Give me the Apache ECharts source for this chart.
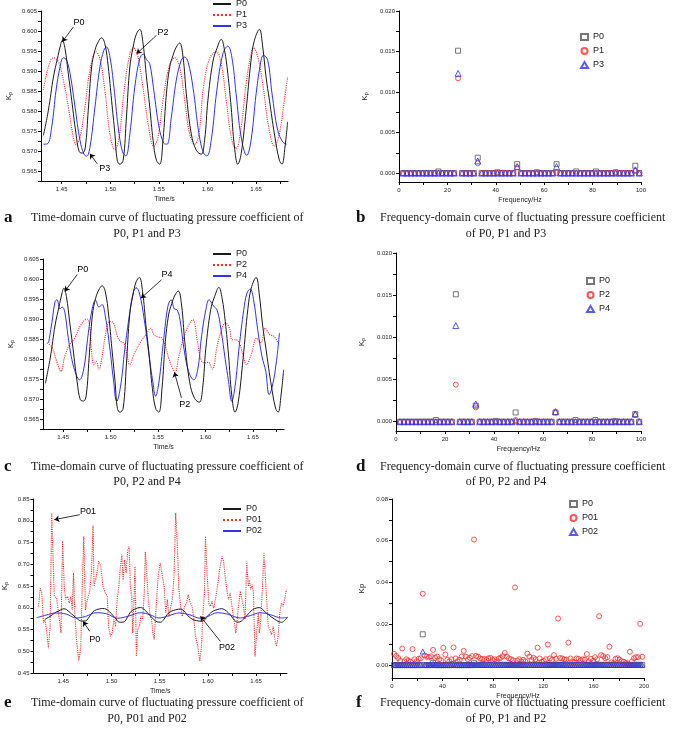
<!DOCTYPE html>
<html><head><meta charset="utf-8">
<script src="https://cdn.jsdelivr.net/npm/echarts@6/dist/echarts.min.js"></script>
<style>html,body{margin:0;padding:0;background:#fff}#c{width:685px;height:737px}</style>
</head><body><div id="c"></div><script>
// ---------- time-domain data [time (s), Kp] ----------
const P0 = [[1.4312,0.5739],[1.4363,0.5802],[1.4415,0.5885],[1.4456,0.5931],[1.4483,0.5960],[1.4507,0.5977],[1.4534,0.5956],[1.4568,0.5893],[1.4603,0.5827],[1.4647,0.5743],[1.4681,0.5698],[1.4715,0.5695],[1.4743,0.5710],[1.4773,0.5802],[1.4808,0.5910],[1.4842,0.5952],[1.4876,0.5973],[1.4910,0.5983],[1.4944,0.5968],[1.4979,0.5910],[1.5013,0.5827],[1.5047,0.5743],[1.5071,0.5677],[1.5098,0.5667],[1.5132,0.5677],[1.5166,0.5785],[1.5201,0.5910],[1.5235,0.5960],[1.5269,0.5993],[1.5303,0.6004],[1.5337,0.5968],[1.5372,0.5885],[1.5406,0.5810],[1.5440,0.5727],[1.5474,0.5677],[1.5508,0.5667],[1.5542,0.5727],[1.5577,0.5843],[1.5611,0.5910],[1.5645,0.5939],[1.5679,0.5960],[1.5713,0.5970],[1.5748,0.5935],[1.5782,0.5843],[1.5833,0.5743],[1.5884,0.5702],[1.5935,0.5692],[1.5970,0.5727],[1.6004,0.5827],[1.6055,0.5923],[1.6096,0.5956],[1.6141,0.5979],[1.6175,0.5952],[1.6209,0.5893],[1.6243,0.5810],[1.6277,0.5710],[1.6312,0.5667],[1.6346,0.5693],[1.6397,0.5802],[1.6448,0.5927],[1.6483,0.5977],[1.6534,0.6004],[1.6568,0.5960],[1.6602,0.5885],[1.6637,0.5827],[1.6688,0.5743],[1.6739,0.5677],[1.6766,0.5667],[1.6797,0.5710],[1.6824,0.5773]];
const P1 = [[1.4312,0.5852],[1.4363,0.5910],[1.4415,0.5933],[1.4466,0.5923],[1.4517,0.5877],[1.4568,0.5810],[1.4613,0.5743],[1.4647,0.5716],[1.4688,0.5735],[1.4739,0.5810],[1.4791,0.5902],[1.4852,0.5948],[1.4893,0.5931],[1.4944,0.5852],[1.4996,0.5743],[1.5047,0.5703],[1.5091,0.5735],[1.5139,0.5843],[1.5194,0.5935],[1.5235,0.5958],[1.5276,0.5943],[1.5331,0.5868],[1.5389,0.5768],[1.5447,0.5712],[1.5491,0.5735],[1.5542,0.5827],[1.5604,0.5910],[1.5662,0.5933],[1.5713,0.5910],[1.5765,0.5827],[1.5816,0.5743],[1.5867,0.5717],[1.5912,0.5743],[1.5959,0.5860],[1.6021,0.5931],[1.6089,0.5948],[1.6141,0.5919],[1.6192,0.5827],[1.6250,0.5727],[1.6294,0.5706],[1.6346,0.5760],[1.6397,0.5868],[1.6448,0.5943],[1.6472,0.5958],[1.6517,0.5935],[1.6568,0.5868],[1.6629,0.5760],[1.6688,0.5712],[1.6739,0.5743],[1.6790,0.5827],[1.6824,0.5885]];
const P3 = [[1.4312,0.5717],[1.4353,0.5718],[1.4397,0.5760],[1.4442,0.5852],[1.4483,0.5910],[1.4517,0.5933],[1.4551,0.5927],[1.4592,0.5885],[1.4637,0.5810],[1.4688,0.5727],[1.4729,0.5692],[1.4756,0.5687],[1.4791,0.5710],[1.4842,0.5810],[1.4893,0.5910],[1.4934,0.5952],[1.4961,0.5960],[1.4996,0.5935],[1.5037,0.5860],[1.5081,0.5760],[1.5125,0.5698],[1.5160,0.5688],[1.5201,0.5743],[1.5252,0.5860],[1.5303,0.5931],[1.5337,0.5942],[1.5378,0.5927],[1.5406,0.5918],[1.5447,0.5852],[1.5501,0.5760],[1.5549,0.5720],[1.5583,0.5717],[1.5628,0.5785],[1.5679,0.5877],[1.5730,0.5927],[1.5765,0.5935],[1.5799,0.5923],[1.5850,0.5860],[1.5912,0.5743],[1.5959,0.5695],[1.5994,0.5688],[1.6038,0.5727],[1.6096,0.5852],[1.6158,0.5943],[1.6209,0.5962],[1.6250,0.5935],[1.6294,0.5843],[1.6346,0.5735],[1.6404,0.5689],[1.6448,0.5727],[1.6500,0.5843],[1.6551,0.5927],[1.6575,0.5939],[1.6619,0.5927],[1.6664,0.5843],[1.6722,0.5752],[1.6773,0.5723],[1.6814,0.5717]];
const P2 = [[1.4329,0.5840],[1.4380,0.5830],[1.4432,0.5794],[1.4476,0.5769],[1.4517,0.5807],[1.4568,0.5836],[1.4620,0.5852],[1.4688,0.5886],[1.4750,0.5900],[1.4784,0.5873],[1.4797,0.5823],[1.4825,0.5786],[1.4849,0.5794],[1.4876,0.5773],[1.4910,0.5807],[1.4955,0.5873],[1.4989,0.5894],[1.5030,0.5890],[1.5071,0.5857],[1.5105,0.5844],[1.5139,0.5840],[1.5173,0.5811],[1.5201,0.5786],[1.5252,0.5815],[1.5320,0.5844],[1.5372,0.5861],[1.5423,0.5877],[1.5457,0.5861],[1.5501,0.5855],[1.5542,0.5852],[1.5577,0.5832],[1.5618,0.5798],[1.5652,0.5778],[1.5679,0.5767],[1.5720,0.5807],[1.5765,0.5848],[1.5816,0.5882],[1.5867,0.5898],[1.5912,0.5848],[1.5953,0.5798],[1.5987,0.5790],[1.6028,0.5792],[1.6072,0.5775],[1.6123,0.5832],[1.6175,0.5877],[1.6209,0.5890],[1.6253,0.5877],[1.6281,0.5848],[1.6322,0.5848],[1.6363,0.5836],[1.6397,0.5807],[1.6431,0.5786],[1.6482,0.5811],[1.6540,0.5852],[1.6585,0.5840],[1.6629,0.5877],[1.6677,0.5861],[1.6722,0.5857],[1.6773,0.5836]];
const P4 = [[1.4346,0.5840],[1.4380,0.5890],[1.4415,0.5944],[1.4435,0.5948],[1.4466,0.5925],[1.4490,0.5930],[1.4517,0.5917],[1.4551,0.5857],[1.4592,0.5798],[1.4637,0.5761],[1.4671,0.5748],[1.4715,0.5773],[1.4756,0.5848],[1.4797,0.5915],[1.4842,0.5947],[1.4876,0.5930],[1.4910,0.5936],[1.4944,0.5907],[1.4989,0.5832],[1.5030,0.5748],[1.5064,0.5694],[1.5105,0.5732],[1.5149,0.5823],[1.5201,0.5915],[1.5242,0.5969],[1.5269,0.5978],[1.5303,0.5965],[1.5355,0.5898],[1.5406,0.5807],[1.5447,0.5740],[1.5474,0.5707],[1.5508,0.5740],[1.5559,0.5848],[1.5604,0.5932],[1.5638,0.5948],[1.5672,0.5925],[1.5700,0.5923],[1.5730,0.5900],[1.5775,0.5823],[1.5822,0.5769],[1.5877,0.5748],[1.5918,0.5773],[1.5959,0.5857],[1.6004,0.5923],[1.6038,0.5948],[1.6083,0.5933],[1.6123,0.5922],[1.6164,0.5873],[1.6209,0.5798],[1.6243,0.5744],[1.6277,0.5694],[1.6312,0.5732],[1.6356,0.5832],[1.6404,0.5923],[1.6438,0.5965],[1.6472,0.5975],[1.6507,0.5948],[1.6551,0.5873],[1.6595,0.5807],[1.6636,0.5769],[1.6671,0.5711],[1.6705,0.5732],[1.6746,0.5790],[1.6780,0.5865]];
const P01 = [[1.4243,0.603],[1.4260,0.645],[1.4277,0.634],[1.4294,0.565],[1.4311,0.573],[1.4329,0.542],[1.4346,0.507],[1.4363,0.557],[1.4380,0.818],[1.4397,0.691],[1.4407,0.626],[1.4431,0.622],[1.4455,0.580],[1.4476,0.542],[1.4493,0.753],[1.4510,0.649],[1.4524,0.619],[1.4545,0.626],[1.4562,0.611],[1.4579,0.626],[1.4593,0.595],[1.4606,0.680],[1.4620,0.588],[1.4637,0.527],[1.4661,0.477],[1.4682,0.511],[1.4699,0.672],[1.4713,0.764],[1.4730,0.595],[1.4750,0.619],[1.4774,0.638],[1.4792,0.680],[1.4809,0.789],[1.4819,0.649],[1.4843,0.672],[1.4867,0.707],[1.4888,0.695],[1.4912,0.649],[1.4936,0.634],[1.4956,0.626],[1.4970,0.557],[1.4990,0.534],[1.5008,0.542],[1.5025,0.573],[1.5042,0.557],[1.5059,0.619],[1.5076,0.649],[1.5093,0.695],[1.5107,0.722],[1.5121,0.664],[1.5135,0.710],[1.5152,0.680],[1.5169,0.733],[1.5183,0.741],[1.5196,0.649],[1.5210,0.626],[1.5220,0.542],[1.5231,0.603],[1.5244,0.695],[1.5258,0.488],[1.5272,0.550],[1.5289,0.557],[1.5306,0.580],[1.5323,0.573],[1.5340,0.634],[1.5351,0.728],[1.5368,0.672],[1.5382,0.619],[1.5402,0.580],[1.5416,0.573],[1.5430,0.542],[1.5443,0.527],[1.5460,0.588],[1.5484,0.672],[1.5505,0.703],[1.5529,0.672],[1.5546,0.649],[1.5563,0.588],[1.5580,0.619],[1.5597,0.580],[1.5615,0.603],[1.5632,0.619],[1.5649,0.672],[1.5666,0.818],[1.5683,0.749],[1.5697,0.649],[1.5717,0.603],[1.5735,0.580],[1.5759,0.603],[1.5779,0.611],[1.5796,0.630],[1.5813,0.615],[1.5837,0.603],[1.5855,0.573],[1.5872,0.534],[1.5896,0.511],[1.5916,0.477],[1.5934,0.511],[1.5951,0.595],[1.5965,0.634],[1.5975,0.764],[1.5992,0.680],[1.6009,0.611],[1.6026,0.603],[1.6043,0.615],[1.6060,0.599],[1.6078,0.619],[1.6095,0.642],[1.6122,0.688],[1.6146,0.718],[1.6163,0.707],[1.6180,0.672],[1.6198,0.638],[1.6215,0.619],[1.6232,0.634],[1.6249,0.603],[1.6266,0.580],[1.6290,0.542],[1.6318,0.603],[1.6335,0.638],[1.6352,0.642],[1.6369,0.603],[1.6386,0.573],[1.6403,0.707],[1.6420,0.649],[1.6431,0.664],[1.6445,0.642],[1.6458,0.653],[1.6472,0.638],[1.6489,0.488],[1.6506,0.542],[1.6523,0.588],[1.6534,0.542],[1.6547,0.565],[1.6568,0.657],[1.6582,0.725],[1.6602,0.649],[1.6626,0.557],[1.6643,0.550],[1.6660,0.538],[1.6678,0.557],[1.6695,0.527],[1.6712,0.511],[1.6729,0.534],[1.6746,0.588],[1.6763,0.611],[1.6780,0.603],[1.6797,0.619],[1.6815,0.642]];
const P02 = [[1.4222,0.5770],[1.4320,0.5830],[1.4428,0.5880],[1.4530,0.5855],[1.4634,0.5765],[1.4730,0.5800],[1.4840,0.5885],[1.4950,0.5860],[1.5064,0.5760],[1.5180,0.5810],[1.5300,0.5885],[1.5400,0.5840],[1.5490,0.5765],[1.5600,0.5820],[1.5700,0.5880],[1.5810,0.5840],[1.5920,0.5760],[1.6000,0.5800],[1.6095,0.5885],[1.6210,0.5850],[1.6335,0.5765],[1.6440,0.5820],[1.6540,0.5885],[1.6650,0.5840],[1.6765,0.5765],[1.6830,0.5780]];

// ---------- frequency-domain data (bin k = 1, 2, ... ; spacing df Hz) ----------
const df = 1.6276;
const P0b = [0,0,0,0,0,0,0,0,0,0.0002,0,0,0,0,0.0151,0,0,0,0,0.0019,0,0,0,0,0.0001,0,0,0,0,0.0011,0,0,0,0,0.0001,0,0,0,0,0.0011,0,0,0,0,0.0002,0,0,0,0,0.0002,0,0,0,0,0.0001,0,0,0,0,0.0009,0];
const P1b = [0,0,0,0,0,0,0,0,0,0,0,0,0,0,0.0117,0,0,0,0,0.0012,0,0,0,0,0,0,0,0,0,0.0007,0,0,0,0,0,0,0,0,0,0.00005,0,0,0,0,0,0,0,0,0,0,0,0,0,0,0,0,0,0,0,0.0003,0];
const P3b = [0,0,0,0,0,0,0,0,0,0,0,0,0,0,0.0123,0,0,0,0,0.0015,0,0,0,0,0,0,0,0,0,0.0008,0,0,0,0,0,0,0,0,0,0.0008,0,0,0,0,0,0,0,0,0,0,0,0,0,0,0,0,0,0,0,0.0004,0];
const P2d = [0,0,0,0,0,0,0,0,0,0,0,0,0,0,0.0044,0,0,0,0,0.0017,0,0,0,0,0,0,0,0,0,0.0002,0,0,0,0,0,0,0,0,0,0.0011,0,0,0,0,0,0,0,0,0,0,0,0,0,0,0,0,0,0,0,0.0008,0];
const P4d = [0,0,0,0,0,0,0,0,0,0,0,0,0,0,0.0114,0,0,0,0,0.0021,0,0,0,0,0,0,0,0,0,0.0001,0,0,0,0,0,0,0,0,0,0.0012,0,0,0,0,0,0,0,0,0,0,0,0,0,0,0,0,0,0,0,0.0009,0];
const P01f = [0.0056,0.0046,0.0036,0.0022,0.0082,0.0020,0.0030,0.0024,0.0018,0.0079,0.0030,0.0020,0.0032,0.0035,0.0345,0.0048,0.0042,0.0040,0.0044,0.0075,0.0037,0.0043,0.0030,0.0025,0.0085,0.0053,0.0027,0.0020,0.0030,0.0087,0.0034,0.0020,0.0028,0.0043,0.0070,0.0043,0.0030,0.0037,0.0045,0.0605,0.0046,0.0043,0.0034,0.0030,0.0032,0.0027,0.0034,0.0037,0.0027,0.0030,0.0020,0.0034,0.0037,0.0045,0.0060,0.0043,0.0034,0.0030,0.0025,0.0375,0.0024,0.0030,0.0020,0.0027,0.0020,0.0057,0.0043,0.0027,0.0037,0.0030,0.0086,0.0034,0.0018,0.0022,0.0030,0.0101,0.0034,0.0027,0.0050,0.0032,0.0226,0.0036,0.0034,0.0030,0.0028,0.0110,0.0034,0.0020,0.0015,0.0034,0.0032,0.0025,0.0030,0.0028,0.0055,0.0020,0.0032,0.0022,0.0040,0.0030,0.0237,0.0050,0.0045,0.0035,0.0040,0.0090,0.0015,0.0010,0.0032,0.0035,0.0028,0.0020,0.0018,0.0012,0.0010,0.0066,0.0020,0.0035,0.0040,0.0040,0.0200,0.0042];
const P0f = [0.0002,0.0002,0.0002,0.0002,0.0002,0.0002,0.0002,0.0002,0.0002,0.0002,0.0002,0.0002,0.0002,0.0002,0.0150,0.0002,0.0002,0.0002,0.0002,0.0013,0.0002,0.0002,0.0002,0.0002,0.0002,0.0002,0.0002,0.0002,0.0002,0.0006,0.0002,0.0002,0.0002,0.0002,0.0002,0.0002,0.0002,0.0002,0.0002,0.0011];
const P02f = [0.0003,0.0003,0.0003,0.0003,0.0003,0.0003,0.0003,0.0003,0.0003,0.0003,0.0003,0.0003,0.0003,0.0003,0.0067,0.0003,0.0003,0.0003,0.0003,0.0008];
const baseF = 0.0003; // flat level of the remaining P0 / P02 bins up to 200 Hz

// ---------- tick labels ----------
const timeLabels = [1.45,1.50,1.55,1.60,1.65];
const timeTicks = [1.45,1.475,1.50,1.525,1.55,1.575,1.60,1.625,1.65,1.675];
const kpLabelsAC = [0.565,0.570,0.575,0.580,0.585,0.590,0.595,0.600,0.605];
const kpTicksAC = [0.5625,0.565,0.5675,0.570,0.5725,0.575,0.5775,0.580,0.5825,0.585,0.5875,0.590,0.5925,0.595,0.5975,0.600,0.6025,0.605];
const freqLabelsBD = [0,20,40,60,80,100];
const freqTicksBD = [0,10,20,30,40,50,60,70,80,90,100];
const kpLabelsBD = [0,0.005,0.010,0.015,0.020];
const kpTicksBD = [0,0.0025,0.005,0.0075,0.010,0.0125,0.015,0.0175,0.020];
const kpLabelsE = [0.45,0.50,0.55,0.60,0.65,0.70,0.75,0.80,0.85];
const kpTicksE = [0.45,0.475,0.50,0.525,0.55,0.575,0.60,0.625,0.65,0.675,0.70,0.725,0.75,0.775,0.80,0.825,0.85];
const freqLabelsF = [0,40,80,120,160,200];
const freqTicksF = [0,20,40,60,80,100,120,140,160,180,200];
const kpLabelsF = [0,0.02,0.04,0.06,0.08];
const kpTicksF = [0,0.01,0.02,0.03,0.04,0.05,0.06,0.07,0.08];

// ---------- captions ----------
const captions = [
  ['a','Time-domain curve of fluctuating pressure coefficient of','P0, P1 and P3'],
  ['b','Frequency-domain curve of fluctuating pressure coefficient','of P0, P1 and P3'],
  ['c','Time-domain curve of fluctuating pressure coefficient of','P0, P2 and P4'],
  ['d','Frequency-domain curve of fluctuating pressure coefficient','of P0, P2 and P4'],
  ['e','Time-domain curve of fluctuating pressure coefficient of','P0, P01 and P02'],
  ['f','Frequency-domain curve of fluctuating pressure coefficient','of P0, P1 and P2']
];
// annotation [label, labelX, labelY, arrowFromX, arrowFromY, arrowToX, arrowToY]
const notesA = [['P0',1.4678,0.6022,1.4620,0.6010,1.4505,0.5973],['P2',1.5542,0.5997,1.5474,0.5989,1.5270,0.5943],['P3',1.4944,0.5656,1.4866,0.5668,1.4790,0.5693]];
const notesC = [['P0',1.4705,0.6023,1.4647,0.6011,1.4517,0.5969],['P4',1.5594,0.6011,1.5536,0.5998,1.5320,0.5952],['P2',1.5782,0.5686,1.5747,0.5703,1.5672,0.5767]];
const notesE = [['P01',1.4757,0.8216,1.4671,0.8140,1.4407,0.8025],['P0',1.4826,0.5266,1.4774,0.5458,1.4706,0.5688],['P02',1.6198,0.5075,1.6129,0.5228,1.5923,0.5803]];

// ---------- build ----------
const chart = echarts.init(document.getElementById('c'), null, {renderer:'canvas'});
const BLACK = '#1a1a1a', RED = '#ff2a2a', BLUE = '#3030ff', GRAY = '#555';
const freqPts = (arr, n, base) => {
  const out = [];
  for (let i = 0; i < n; i++) out.push([(i + 1) * df, i < arr.length ? arr[i] : base]);
  return out;
};

const grids = [
  {left:41, top:11, width:247, height:170},
  {left:399, top:11, width:242, height:171},
  {left:43, top:259, width:241, height:170},
  {left:396, top:253, width:245, height:178},
  {left:32, top:499, width:255, height:174},
  {left:392, top:499, width:252, height:179}
];
const axBase = {
  axisLine:{show:true, onZero:false, lineStyle:{color:'#000', width:1}},
  splitLine:{show:false},
  nameTextStyle:{fontSize:7, color:'#222', fontFamily:'Arial'}
};
function xAx(i, min, max, labels, ticks, fmt, name) {
  return Object.assign({}, axBase, {type:'value', gridIndex:i, min:min, max:max, name:name, nameLocation:'middle', nameGap:15,
    axisTick:{show:true, length:3, lineStyle:{color:'#000'}, customValues:ticks},
    axisLabel:{fontSize:6, color:'#222', fontFamily:'Arial', margin:5, customValues:labels, formatter:(v)=>v.toFixed(fmt)}});
}
function yAx(i, min, max, labels, ticks, fmt, sub, gap) {
  return Object.assign({}, axBase, {type:'value', gridIndex:i, min:min, max:max,
    name: sub ? '{k|K}{p|p}' : 'Kp', nameLocation:'middle', nameGap:gap, nameRotate:90,
    nameTextStyle:{fontSize:8, color:'#222', fontFamily:'Arial', rich:{k:{fontSize:8, fontFamily:'Arial', color:'#222'}, p:{fontSize:5.5, fontFamily:'Arial', color:'#222', verticalAlign:'bottom', padding:[3,0,0,0]}}},
    axisTick:{show:true, length:3, lineStyle:{color:'#000'}, customValues:ticks},
    axisLabel:{fontSize:6, color:'#222', fontFamily:'Arial', margin:4, customValues:labels, formatter:(v)=>v.toFixed(fmt)}});
}
function notes(list) {
  return {
    markLine:{silent:true, animation:false, symbol:['none','arrow'], symbolSize:5, label:{show:false},
      lineStyle:{color:'#000', width:0.8, type:'solid'},
      data:list.map(n => [{coord:[n[3], n[4]]}, {coord:[n[5], n[6]]}])},
    markPoint:{silent:true, animation:false, symbol:'circle', symbolSize:1, itemStyle:{color:'rgba(0,0,0,0)'},
      label:{show:true, position:'inside', formatter:'{b}', fontSize:9, color:'#000', fontFamily:'Arial'},
      data:list.map(n => ({name:n[0], coord:[n[1], n[2]]}))}
  };
}
function lineS(name, gi, data, color, dotted, smooth, extra) {
  return Object.assign({type:'line', name:name, xAxisIndex:gi, yAxisIndex:gi, data:data, symbol:'none', smooth:smooth,
    lineStyle:{color:color, width:dotted ? 1.1 : 1, type: dotted ? 'dotted' : 'solid'}, itemStyle:{color:color}, animation:false}, extra || {});
}
function scatS(name, gi, data, color, sym, size) {
  return {type:'scatter', name:name, xAxisIndex:gi, yAxisIndex:gi, data:data, symbol:sym, symbolSize:size,
    itemStyle:{color:'rgba(255,255,255,0)', borderColor:color, borderWidth:1}, animation:false};
}
function legendL(names, left, top, isLine) {
  const l = {left:left, top:top, orient:'vertical', padding:0, itemGap:1,
    itemWidth: isLine ? 18 : 7, itemHeight: isLine ? 9 : 6,
    textStyle:{fontSize:9, color:'#222', fontFamily:'Arial', lineHeight:10},
    formatter:(n)=>n.split('#')[0], data:names, selectedMode:false};
  if (isLine) l.itemStyle = {opacity:0};
  else l.itemGap = 4;
  return l;
}

const graphic = [];
const capY = [[218,234],[467,482],[703,719]];
captions.forEach((c, i) => {
  const col = i % 2, row = Math.floor(i / 2);
  const lx = col ? 356 : 4, tx = col ? 380 : 31, cx = col ? 506 : 147;
  graphic.push({type:'text', style:{x:lx, y:capY[row][0], text:c[0], font:'bold 17px "Liberation Serif"', fill:'#111', verticalAlign:'middle'}});
  graphic.push({type:'text', style:{x:tx, y:capY[row][0], text:c[1], font:'12px "Liberation Serif"', fill:'#222', verticalAlign:'middle'}});
  graphic.push({type:'text', style:{x:cx, y:capY[row][1], text:c[2], font:'12px "Liberation Serif"', fill:'#222', align:'center', verticalAlign:'middle'}});
});

const option = {
  animation:false,
  backgroundColor:'#fff',
  grid:grids,
  xAxis:[
    xAx(0, 1.4287, 1.6828, timeLabels, timeTicks, 2, 'Time/s'),
    xAx(1, 0, 100, freqLabelsBD, freqTicksBD, 0, 'Frequency/Hz'),
    xAx(2, 1.4287, 1.6828, timeLabels, timeTicks, 2, 'Time/s'),
    xAx(3, 0, 100, freqLabelsBD, freqTicksBD, 0, 'Frequency/Hz'),
    xAx(4, 1.4191, 1.6821, timeLabels, timeTicks, 2, 'Time/s'),
    xAx(5, 0, 200, freqLabelsF, freqTicksF, 0, 'Frequency/Hz')
  ],
  yAxis:[
    yAx(0, 0.5625, 0.605, kpLabelsAC, kpTicksAC, 3, true, 28),
    yAx(1, -0.0011, 0.020, kpLabelsBD, kpTicksBD, 3, true, 30),
    yAx(2, 0.5625, 0.605, kpLabelsAC, kpTicksAC, 3, true, 28),
    yAx(3, -0.0011, 0.020, kpLabelsBD, kpTicksBD, 3, true, 30),
    yAx(4, 0.45, 0.85, kpLabelsE, kpTicksE, 2, true, 24),
    yAx(5, -0.006, 0.08, kpLabelsF, kpTicksF, 2, false, 26)
  ],
  legend:[
    legendL(['P0#a','P1#a','P3#a'], 212, -1, true),
    legendL(['P0#b','P1#b','P3#b'], 580, 32, false),
    legendL(['P0#c','P2#c','P4#c'], 212, 249, true),
    legendL(['P0#d','P2#d','P4#d'], 586, 276, false),
    legendL(['P0#e','P01#e','P02#e'], 222, 504, true),
    legendL(['P0#f','P01#f','P02#f'], 569, 499, false)
  ],
  graphic:graphic,
  series:[
    lineS('P1#a', 0, P1, RED, true, 0.4),
    lineS('P3#a', 0, P3, BLUE, false, 0.4),
    lineS('P0#a', 0, P0, BLACK, false, 0.4, notes(notesA)),
    scatS('P0#b', 1, freqPts(P0b, 61, 0), GRAY, 'rect', 5),
    scatS('P1#b', 1, freqPts(P1b, 61, 0), RED, 'circle', 5),
    scatS('P3#b', 1, freqPts(P3b, 61, 0), BLUE, 'triangle', 6),
    lineS('P2#c', 2, P2, RED, true, 0.4),
    lineS('P4#c', 2, P4, BLUE, false, 0.4),
    lineS('P0#c', 2, P0, BLACK, false, 0.4, notes(notesC)),
    scatS('P0#d', 3, freqPts(P0b, 61, 0), GRAY, 'rect', 5),
    scatS('P2#d', 3, freqPts(P2d, 61, 0), RED, 'circle', 5),
    scatS('P4#d', 3, freqPts(P4d, 61, 0), BLUE, 'triangle', 6),
    lineS('P01#e', 4, P01, RED, true, false),
    lineS('P0#e', 4, P0, BLACK, false, 0.4, notes(notesE)),
    lineS('P02#e', 4, P02, BLUE, false, 0.4),
    scatS('P0#f', 5, freqPts(P0f, 122, baseF), GRAY, 'rect', 5),
    scatS('P01#f', 5, freqPts(P01f, 122, 0), RED, 'circle', 5),
    scatS('P02#f', 5, freqPts(P02f, 122, baseF), BLUE, 'triangle', 5)
  ]
};
chart.setOption(option);
</script></body></html>
